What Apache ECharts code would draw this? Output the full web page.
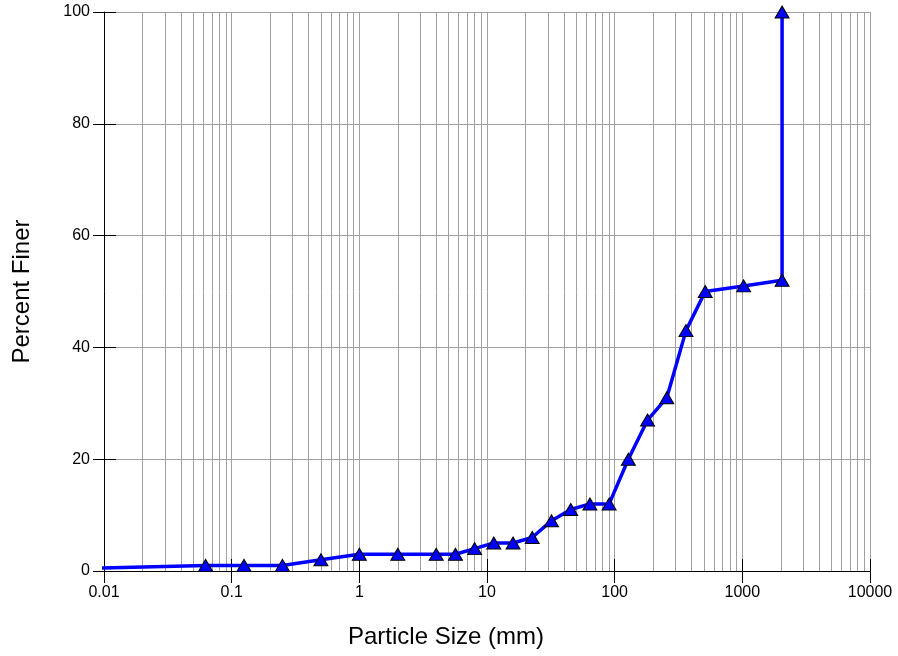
<!DOCTYPE html>
<html>
<head>
<meta charset="utf-8">
<script src="https://cdn.jsdelivr.net/npm/echarts@6/dist/echarts.min.js"></script>
<style>
  html, body { margin: 0; padding: 0; background: #fff; }
  #chart { width: 898px; height: 656px; }
</style>
</head>
<body>
<div id="chart"></div>
<script>
// Sieve sizes (mm) and cumulative percent finer
const particleSize = [0.001, 0.0625, 0.125, 0.25, 0.5, 1, 2, 4, 5.66, 8, 11.3, 16, 22.6, 32, 45.3, 64, 90.5, 128, 181, 256, 362, 512, 1024, 2048, 2048];
const percentFiner = [0, 1, 1, 1, 2, 3, 3, 3, 3, 4, 5, 5, 6, 9, 11, 12, 12, 20, 27, 31, 43, 50, 51, 52, 100];

// Axis tick labels
const xTickLabels = ['0.01', '0.1', '1', '10', '100', '1000', '10000'];
const yTickLabels = ['0', '20', '40', '60', '80', '100'];

const xMin = 0.01, xMax = 10000;
const FONT = 'Liberation Sans, Arial, sans-serif';

// Intermediate log-cycle grid lines (2..9 within each decade)
const minorLines = [];
for (let e = -2; e <= 3; e++) {
  for (let k = 2; k <= 9; k++) {
    minorLines.push({ xAxis: k * Math.pow(10, e) });
  }
}

const seriesData = particleSize.map((x, i) => [x, percentFiner[i]]);

const xLabelFmt = v => xTickLabels[Math.round(Math.log10(v / xMin))] ?? '';
const yLabelFmt = v => yTickLabels[Math.round(v / 20)] ?? '';

const gridColor = '#a0a0a0';

const chart = echarts.init(document.getElementById('chart'), null, { renderer: 'canvas' });
chart.setOption({
  animation: false,
  backgroundColor: '#ffffff',
  grid: { left: 104, top: 12, width: 766, height: 559 },
  xAxis: [
    {
      type: 'log', logBase: 10, min: xMin, max: xMax, splitNumber: 6,
      position: 'bottom',
      name: 'Particle Size (mm)', nameLocation: 'middle', nameGap: 54,
      // title is centred on the page rather than on the plot area
      nameTextStyle: { fontFamily: FONT, fontSize: 24, color: '#000', padding: [0, 82, 0, 0] },
      axisLine: { show: true, lineStyle: { color: '#000', width: 1 } },
      axisTick: { show: true, inside: false, length: 12, lineStyle: { color: '#000' } },
      axisLabel: { formatter: xLabelFmt, fontFamily: FONT, fontSize: 16, color: '#000', margin: 14 },
      splitLine: { show: true, lineStyle: { color: gridColor, width: 1 } }
    },
    {
      type: 'log', logBase: 10, min: xMin, max: xMax, splitNumber: 6,
      position: 'bottom',
      axisLine: { show: false },
      axisTick: { show: true, inside: true, length: 12, lineStyle: { color: '#000' } },
      axisLabel: { show: false },
      splitLine: { show: false }
    }
  ],
  yAxis: [
    {
      type: 'value', min: 0, max: 100, interval: 20,
      position: 'left',
      name: 'Percent Finer', nameLocation: 'middle', nameGap: 70, nameRotate: 90,
      nameTextStyle: { fontFamily: FONT, fontSize: 24, color: '#000' },
      axisLine: { show: true, lineStyle: { color: '#000', width: 1 } },
      axisTick: { show: true, inside: false, length: 11, lineStyle: { color: '#000' } },
      axisLabel: { formatter: yLabelFmt, fontFamily: FONT, fontSize: 16, color: '#000', margin: 14 },
      splitLine: { show: true, lineStyle: { color: gridColor, width: 1 } }
    },
    {
      type: 'value', min: 0, max: 100, interval: 20,
      position: 'left',
      axisLine: { show: false },
      axisTick: { show: true, inside: true, length: 12, lineStyle: { color: '#000' } },
      axisLabel: { show: false },
      splitLine: { show: false }
    }
  ],
  series: [
    {
      name: 'minor-grid',
      type: 'line',
      data: [],
      z: 1,
      silent: true,
      markLine: {
        silent: true,
        symbol: ['none', 'none'],
        label: { show: false },
        lineStyle: { color: gridColor, width: 1, type: 'solid' },
        emphasis: { disabled: true },
        animation: false,
        data: minorLines
      }
    },
    {
      name: 'Percent Finer',
      type: 'line',
      data: seriesData,
      z: 5,
      clip: true,
      symbol: 'triangle',
      symbolSize: [14, 12],
      showSymbol: true,
      itemStyle: { color: '#0000ff', borderColor: '#000', borderWidth: 1 },
      lineStyle: { color: '#0000ff', width: 3.5 }
    }
  ]
});
</script>
</body>
</html>
